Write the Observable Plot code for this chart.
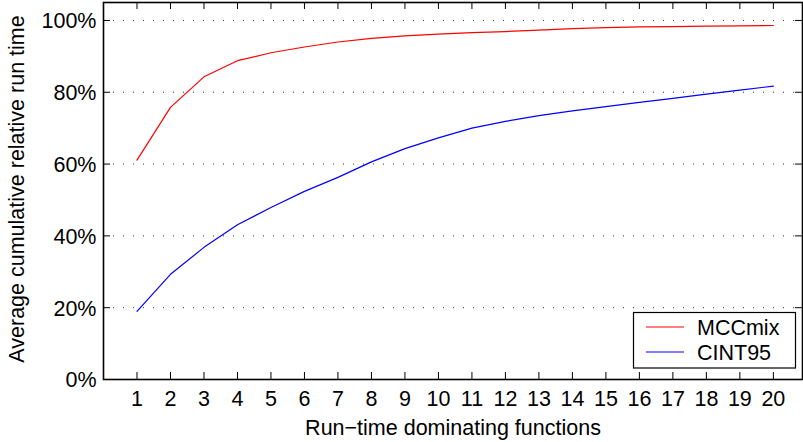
<!DOCTYPE html>
<html>
<head>
<meta charset="utf-8">
<script src="https://cdn.jsdelivr.net/npm/d3@7"></script>
<script src="https://cdn.jsdelivr.net/npm/@observablehq/plot@0.6"></script>
<style>
  html, body { margin: 0; padding: 0; background: #fff; }
  #chart { width: 803px; height: 442px; }
</style>
</head>
<body>
<div id="chart"></div>
<script>
// ---- data ----
const functionsCount = [1,2,3,4,5,6,7,8,9,10,11,12,13,14,15,16,17,18,19,20];
const mccmix = [61.1,75.8,84.3,88.8,91.0,92.6,94.0,95.0,95.7,96.2,96.6,96.9,97.3,97.7,98.0,98.2,98.3,98.4,98.5,98.6];
const cint95 = [19.0,29.3,36.8,43.1,47.9,52.4,56.3,60.6,64.3,67.3,70.0,71.9,73.5,74.8,76.0,77.2,78.3,79.5,80.6,81.7];
const seriesNames = ["MCCmix", "CINT95"];
const seriesColors = ["#ff0000", "#0000ff"];
const xTicks = functionsCount;
const yTicks = [0, 20, 40, 60, 80, 100];
const gridValues = [20, 40, 60, 80, 100];
const xLabel = "Run\u2212time dominating functions";
const yLabel = "Average cumulative relative run time";

const rows = [];
functionsCount.forEach((n, i) => {
  rows.push({n, v: mccmix[i], series: seriesNames[0]});
});
functionsCount.forEach((n, i) => {
  rows.push({n, v: cint95[i], series: seriesNames[1]});
});

const W = 803, H = 442;
const mL = 103, mR = 1, mT = 2, mB = 63;
const innerW = W - mL - mR, innerH = H - mT - mB;
const tickLen = 7;
const font = "'Liberation Sans', Arial, Helvetica, sans-serif";

const chart = Plot.plot({
  width: W, height: H,
  marginLeft: mL, marginRight: mR, marginTop: mT, marginBottom: mB,
  x: {domain: [0, 20.87]},
  y: {domain: [0, 105]},
  color: {domain: seriesNames, range: seriesColors},
  style: {fontFamily: font, color: "black", background: "white", overflow: "visible"},
  marks: [
    Plot.ruleY(gridValues, {y: d => d, stroke: "#333", strokeDasharray: "1,9", strokeWidth: 1}),
    Plot.line(rows, {x: "n", y: "v", z: "series", stroke: "series", strokeWidth: 1.2}),
    Plot.tickX(xTicks, {x: d => d, insetTop: innerH - tickLen, stroke: "black", strokeWidth: 1}),
    Plot.tickX(xTicks, {x: d => d, insetBottom: innerH - tickLen, stroke: "black", strokeWidth: 1}),
    Plot.tickY(yTicks, {y: d => d, insetRight: innerW - tickLen, stroke: "black", strokeWidth: 1}),
    Plot.tickY(yTicks, {y: d => d, insetLeft: innerW - tickLen, stroke: "black", strokeWidth: 1}),
    Plot.frame({stroke: "black", strokeWidth: 1.6}),
    Plot.axisY({ticks: yTicks, tickSize: 0, tickPadding: 7, tickFormat: d => d + "%", fontSize: 21.5, label: null, dy: 1}),
    Plot.axisX({ticks: xTicks, tickSize: 0, tickPadding: 11, tickFormat: d => String(d), fontSize: 21.5, label: null}),
    Plot.text([xLabel], {text: d => d, frameAnchor: "bottom", lineAnchor: "top", dy: 40, fontSize: 21.5}),
    Plot.text([yLabel], {text: d => d, frameAnchor: "left", textAnchor: "middle", lineAnchor: "top", rotate: -90, dx: -95, dy: -2, fontSize: 21.5})
  ]
});

// legend (inside the plot, lower right)
const svg = d3.select(chart);
const lg = svg.append("g").attr("font-family", font).attr("font-size", 21.5).attr("text-anchor", "start");
lg.append("rect")
  .attr("x", 633.5).attr("y", 312.5).attr("width", 162).attr("height", 55.5)
  .attr("fill", "white").attr("stroke", "black").attr("stroke-width", 1.2);
const legendRows = [
  {name: seriesNames[0], color: seriesColors[0], ly: 327, ty: 335},
  {name: seriesNames[1], color: seriesColors[1], ly: 352, ty: 360}
];
legendRows.forEach(r => {
  lg.append("line").attr("x1", 646).attr("x2", 684).attr("y1", r.ly).attr("y2", r.ly)
    .attr("stroke", r.color).attr("stroke-width", 1.2);
  lg.append("text").attr("x", 697).attr("y", r.ty).attr("fill", "black").attr("text-anchor", "start").text(r.name);
});

document.getElementById("chart").appendChild(chart);
</script>
</body>
</html>
